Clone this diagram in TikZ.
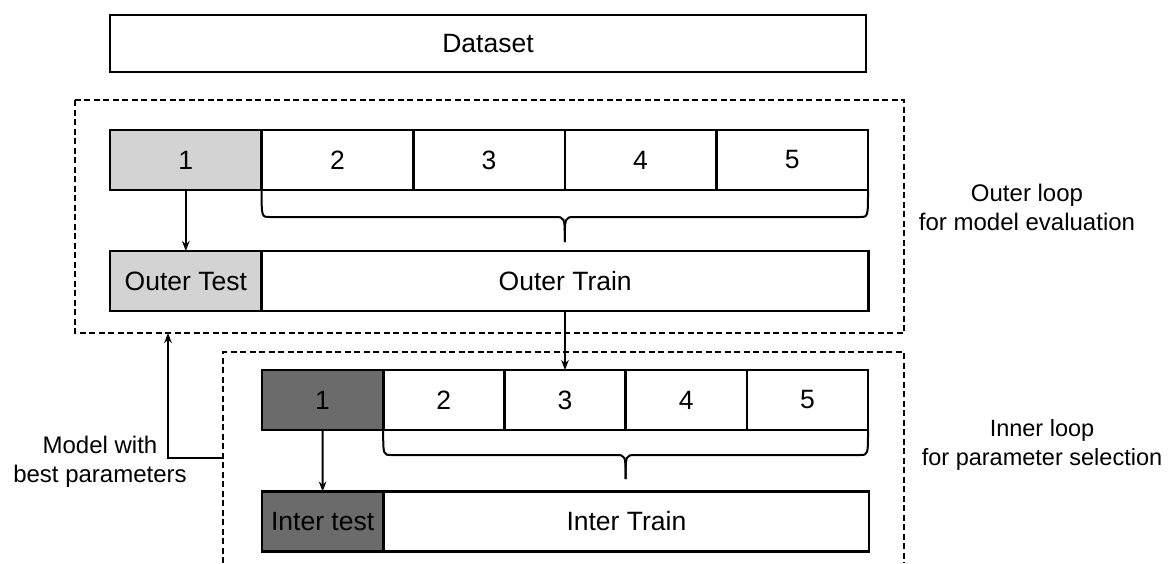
\documentclass[tikz,border=0pt]{standalone}
\usepackage{fontspec}
\setmainfont{Liberation Sans}
\usetikzlibrary{arrows.meta}
\definecolor{lightg}{HTML}{D3D3D3}
\definecolor{darkg}{HTML}{6B6B6B}
\begin{document}
\begin{tikzpicture}[x=1pt,y=-1pt,
 box/.style={draw, line width=2.6pt, inner sep=0pt, outer sep=0pt, minimum height=60pt, font=\fontsize{26.5}{31}\selectfont},
 lbl/.style={align=center, font=\fontsize{24}{29}\selectfont, inner sep=0pt},
 arr/.style={line width=2pt, -{Stealth[length=10pt,width=7.5pt]}},
 dsh/.style={line width=1.6pt, dash pattern=on 6pt off 3.5pt},
 brc/.style={line width=2pt}]
\useasboundingbox (0,0) rectangle (1174,563);
% Dataset
\node[box, minimum width=756pt, minimum height=57pt] (data) at (488,43.5) {Dataset};
% outer dashed frame
\draw[dsh] (75,100) rectangle (904,333);
\coordinate (obot) at (168,333);
% outer folds
\foreach \k/\f in {1/lightg,2/white,3/white,4/white,5/white}{
  \node[box, fill=\f, minimum width=151.6pt] (o\k) at ({110+151.6*(\k-0.5)},160) {\k};
}
\node[box, fill=lightg, minimum width=151.6pt] (otest) at (185.8,281) {Outer Test};
\node[box, minimum width=606.4pt] (otrain) at (565.2,281) {Outer Train};
% outer brace
\draw[brc] (o2.south west) .. controls ([yshift=-27pt]o2.south west) and ([yshift=-27pt]o2.south west) .. ([xshift=8pt,yshift=-27pt]o2.south west)
  -- ([xshift=-10pt,yshift=-27pt]o4.south west) .. controls ([yshift=-27pt]o4.south west) .. ([yshift=-52pt]o4.south west);
\draw[brc] (o5.south east) .. controls ([yshift=-27pt]o5.south east) and ([yshift=-27pt]o5.south east) .. ([xshift=-8pt,yshift=-27pt]o5.south east)
  -- ([xshift=10pt,yshift=-27pt]o4.south west) .. controls ([yshift=-27pt]o4.south west) .. ([yshift=-52pt]o4.south west);
\draw[arr] (o1.south) -- (otest.north);
% inner dashed frame
\draw[dsh] (223,563) -- (223,352) -- (904,352) -- (904,563);
\coordinate (ileft) at (223,458);
% inner folds
\foreach \k/\f in {1/darkg,2/white,3/white,4/white,5/white}{
  \node[box, fill=\f, minimum width=121.2pt] (i\k) at ({262+121.2*(\k-0.5)},400) {\k};
}
\node[box, fill=darkg, minimum width=121.2pt] (itest) at (322.6,521.5) {Inter test};
\node[box, minimum width=484.8pt] (itrain) at (626.4,521.5) {Inter Train};
% inner brace
\draw[brc] (i2.south west) .. controls ([yshift=-25pt]i2.south west) and ([yshift=-25pt]i2.south west) .. ([xshift=8pt,yshift=-25pt]i2.south west)
  -- ([xshift=-10pt,yshift=-25pt]i4.south west) .. controls ([yshift=-25pt]i4.south west) .. ([yshift=-49pt]i4.south west);
\draw[brc] (i5.south east) .. controls ([yshift=-25pt]i5.south east) and ([yshift=-25pt]i5.south east) .. ([xshift=-8pt,yshift=-25pt]i5.south east)
  -- ([xshift=10pt,yshift=-25pt]i4.south west) .. controls ([yshift=-25pt]i4.south west) .. ([yshift=-49pt]i4.south west);
\draw[arr] (i1.south) -- (itest.north);
% connector outer train -> inner row
\draw[arr] (otrain.south -| i3.north) -- (i3.north);
% feedback
\draw[arr] (ileft) -| (obot);
% labels
\node[lbl] (outerlbl) at (1027,207) {Outer loop\\for model evaluation};
\node[lbl, font=\fontsize{23.5}{29}\selectfont] (innerlbl) at (1042,445) {Inner loop\\for parameter selection};
\node[lbl] (modellbl) at (100,462) {Model with\\best parameters};
\end{tikzpicture}
\end{document}
